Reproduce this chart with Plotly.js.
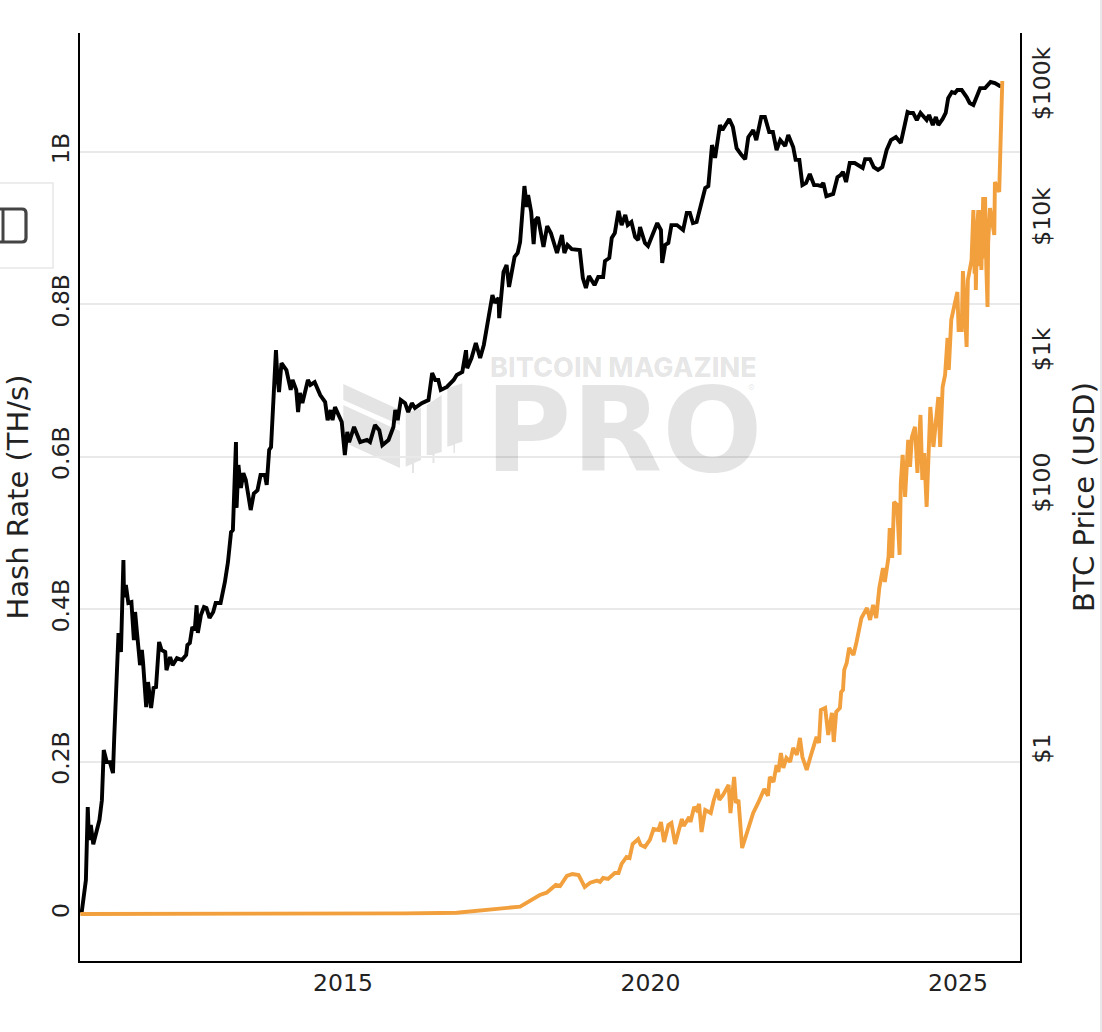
<!DOCTYPE html>
<html><head><meta charset="utf-8">
<script src="https://cdn.plot.ly/plotly-3.0.1.min.js"></script>
<style>html,body{margin:0;padding:0;background:#fff}#c{width:1102px;height:1032px}</style>
</head><body><div id="c"></div>
<script>
const priceYears=[2010.75,2010.82,2010.85,2010.87,2010.90,2010.94,2011.04,2011.08,2011.11,2011.16,2011.21,2011.26,2011.28,2011.35,2011.39,2011.43,2011.44,2011.47,2011.51,2011.56,2011.60,2011.62,2011.65,2011.70,2011.73,2011.75,2011.80,2011.83,2011.88,2011.92,2011.96,2012.01,2012.05,2012.11,2012.13,2012.19,2012.23,2012.30,2012.38,2012.45,2012.47,2012.51,2012.55,2012.59,2012.62,2012.64,2012.69,2012.74,2012.78,2012.83,2012.89,2012.93,2013.01,2013.08,2013.13,2013.18,2013.21,2013.26,2013.27,2013.30,2013.34,2013.38,2013.42,2013.50,2013.55,2013.61,2013.66,2013.73,2013.76,2013.80,2013.83,2013.88,2013.91,2013.93,2013.96,2014.00,2014.08,2014.15,2014.18,2014.24,2014.27,2014.30,2014.34,2014.43,2014.47,2014.54,2014.63,2014.71,2014.75,2014.80,2014.83,2014.87,2014.92,2014.98,2015.03,2015.07,2015.10,2015.18,2015.28,2015.39,2015.44,2015.52,2015.59,2015.64,2015.74,2015.82,2015.85,2015.89,2015.94,2016.01,2016.06,2016.12,2016.17,2016.28,2016.39,2016.45,2016.50,2016.55,2016.59,2016.69,2016.80,2016.85,2016.94,2017.00,2017.02,2017.09,2017.16,2017.23,2017.29,2017.36,2017.43,2017.47,2017.53,2017.54,2017.61,2017.66,2017.70,2017.79,2017.84,2017.88,2017.92,2017.95,2017.99,2018.01,2018.06,2018.10,2018.13,2018.17,2018.26,2018.32,2018.38,2018.42,2018.48,2018.56,2018.60,2018.65,2018.72,2018.85,2018.88,2018.90,2018.95,2019.00,2019.09,2019.15,2019.23,2019.26,2019.33,2019.37,2019.42,2019.48,2019.53,2019.59,2019.63,2019.69,2019.75,2019.80,2019.83,2019.91,2019.96,2020.02,2020.11,2020.17,2020.19,2020.24,2020.29,2020.34,2020.43,2020.53,2020.59,2020.64,2020.69,2020.75,2020.80,2020.89,2020.94,2021.00,2021.05,2021.13,2021.17,2021.28,2021.34,2021.40,2021.48,2021.54,2021.59,2021.67,2021.72,2021.80,2021.86,2021.93,2021.99,2022.05,2022.11,2022.19,2022.24,2022.32,2022.36,2022.42,2022.47,2022.53,2022.59,2022.66,2022.72,2022.77,2022.81,2022.86,2022.97,2023.04,2023.09,2023.13,2023.18,2023.24,2023.32,2023.45,2023.49,2023.57,2023.63,2023.70,2023.77,2023.84,2023.91,2023.99,2024.07,2024.13,2024.18,2024.22,2024.27,2024.33,2024.39,2024.49,2024.53,2024.59,2024.64,2024.68,2024.75,2024.80,2024.84,2024.90,2024.95,2024.99,2025.06,2025.14,2025.19,2025.25,2025.36,2025.44,2025.53,2025.60,2025.68,2025.72];
const priceUsd=[0.0616,0.109,0.386,0.218,0.283,0.203,0.308,0.435,1.035,0.84,0.84,0.695,1.27,7.85,5.65,27.8,14.6,18.0,13.2,13.4,6.95,11.3,7.98,4.5,5.85,4.67,2.18,3.36,2.14,3.03,3.08,6.72,5.85,5.65,4.13,5.18,4.5,5.08,4.92,5.37,6.38,6.6,8.7,8.25,12.7,7.85,10.7,12.3,12.1,10.2,11.3,13.2,13.2,19.0,26.8,45,46.7,214,68.5,144,96.6,125,111,66,88,93,121,121,102,187,196,595,1050,707,508,840,745,528,627,528,360,500,420,627,575,604,483,428,313,373,313,392,342,303,171,255,214,278,214,222,214,287,263,203,222,278,373,313,443,420,360,420,386,420,443,707,627,627,528,556,627,684,719,1050,770,916,1190,916,1150,1770,2730,2380,2590,1830,4060,4590,3140,5280,5650,6840,11300,18000,12500,15400,11500,6600,10000,10500,6270,9000,7980,6840,5650,7700,5650,6490,6040,5950,4430,3660,3080,3800,3240,3730,3730,4920,5180,7320,7980,11700,9160,10900,9160,9660,7450,7070,8860,6720,6380,7450,9490,8400,4750,6490,6720,9160,9160,8400,11300,11300,9490,9660,11900,17400,18000,36600,29300,51800,47500,57500,50000,34700,30800,28700,42000,47500,39900,59500,59500,45900,45900,33600,39900,36000,43500,35400,28300,28300,18300,19000,22200,18300,18300,18000,19000,15100,15700,21000,21800,23000,19300,26800,26800,24600,28700,28700,25000,23800,25000,33600,39900,42000,38000,49200,64900,63800,63800,56500,63800,56500,61600,51800,59500,51800,57500,63800,82500,91600,90000,94900,94900,84000,75800,73200,98000,98000,109000,107000,101700,101700];
const hashYears=[2010.73,2012.0,2013.0,2014.0,2015.0,2016.0,2016.58,2016.85,2017.88,2018.20,2018.31,2018.46,2018.53,2018.64,2018.73,2018.83,2018.93,2019.02,2019.13,2019.18,2019.23,2019.31,2019.42,2019.48,2019.53,2019.61,2019.66,2019.71,2019.80,2019.84,2019.91,2019.99,2020.05,2020.13,2020.17,2020.22,2020.29,2020.34,2020.40,2020.47,2020.51,2020.54,2020.63,2020.65,2020.71,2020.75,2020.79,2020.83,2020.89,2020.98,2021.03,2021.09,2021.12,2021.18,2021.27,2021.30,2021.36,2021.39,2021.43,2021.49,2021.54,2021.59,2021.67,2021.75,2021.85,2021.91,2021.94,2022.00,2022.05,2022.08,2022.12,2022.16,2022.21,2022.27,2022.32,2022.38,2022.43,2022.47,2022.54,2022.60,2022.66,2022.70,2022.74,2022.77,2022.84,2022.89,2022.95,2022.98,2023.02,2023.08,2023.10,2023.13,2023.15,2023.19,2023.23,2023.30,2023.35,2023.43,2023.52,2023.57,2023.62,2023.67,2023.72,2023.78,2023.81,2023.87,2023.89,2023.93,2023.96,2024.01,2024.05,2024.07,2024.10,2024.14,2024.19,2024.22,2024.25,2024.30,2024.34,2024.39,2024.42,2024.45,2024.49,2024.53,2024.55,2024.60,2024.68,2024.71,2024.75,2024.79,2024.83,2024.85,2024.89,2024.95,2024.99,2025.01,2025.06,2025.08,2025.14,2025.16,2025.22,2025.25,2025.27,2025.28,2025.29,2025.31,2025.33,2025.35,2025.36,2025.38,2025.39,2025.41,2025.43,2025.44,2025.46,2025.48,2025.49,2025.52,2025.59,2025.60,2025.67,2025.68,2025.69,2025.71,2025.72];
const hashBillions=[0,0,0.00002,0.00005,0.0003,0.0008,0.0013,0.0017,0.0096,0.0249,0.0279,0.0381,0.0367,0.0499,0.0525,0.0512,0.0354,0.0411,0.0437,0.042,0.0472,0.0459,0.0538,0.0538,0.0656,0.0748,0.0735,0.0919,0.0984,0.0906,0.0879,0.0971,0.1115,0.1102,0.1207,0.0945,0.1168,0.1194,0.0919,0.1102,0.1247,0.1155,0.1273,0.1207,0.1404,0.1365,0.1444,0.1076,0.1365,0.1325,0.1496,0.164,0.1496,0.1562,0.1693,0.1325,0.1798,0.1457,0.1496,0.0866,0.0997,0.1102,0.1325,0.1457,0.164,0.1549,0.1798,0.1732,0.1955,0.1864,0.2113,0.1916,0.2047,0.1995,0.2178,0.2087,0.231,0.206,0.189,0.206,0.2244,0.2323,0.2244,0.2677,0.2703,0.2349,0.2638,0.2257,0.2651,0.2703,0.2913,0.294,0.3202,0.3294,0.3491,0.3399,0.3569,0.3884,0.4016,0.3858,0.4055,0.3884,0.4278,0.454,0.4357,0.4684,0.5065,0.4672,0.5406,0.5367,0.4711,0.5656,0.6023,0.5472,0.622,0.5866,0.6259,0.6391,0.5787,0.6548,0.5695,0.6049,0.5341,0.6128,0.6653,0.6128,0.6784,0.6128,0.6915,0.7073,0.7558,0.7138,0.7795,0.8017,0.8162,0.7663,0.7663,0.8437,0.744,0.8319,0.8581,0.9237,0.84,0.90,0.8188,0.90,0.9237,0.85,0.9237,0.845,0.90,0.9408,0.86,0.9408,0.85,0.7965,0.88,0.9264,0.891,0.9605,0.9474,0.9802,1.0288,1.0459,1.0931];
const hashTickVals=[0,0.2,0.4,0.6,0.8,1];
const hashTickText=['0','0.2B','0.4B','0.6B','0.8B','1B'];
const priceTickVals=[1,100,1000,10000,100000];
const priceTickText=['$1','$100','$1k','$10k','$100k'];
const yearTicks=[2015,2020,2025];

const W=1102,H=1032,L=80,R=1020,T=33,B=961;
const fx=x=>(x-L)/(R-L), fy=y=>(B-y)/(B-T);
const poly=(pts,color)=>({type:'path',xref:'paper',yref:'paper',layer:'below',fillcolor:color,line:{width:0},
  path:pts.map((p,i)=>(i?'L':'M')+fx(p[0])+','+fy(p[1])).join(' ')+' Z'});
const wm='#e4e4e4';
const wmText='rgba(0,0,0,0.105)';
const logo=[
 [[343.3,384],[400,410],[400,425],[343.3,400]],
 [[343.3,405],[400,431],[400,468],[343.3,442]],
 [[405.7,413.3],[421,408],[421,460],[414,463],[414,473],[412,473],[412,464],[405.7,466.7]],
 [[426.7,405],[441.7,395],[441.7,452],[434.5,454],[434.5,463],[432.5,463],[432.5,455],[426.7,455]],
 [[447.3,388.3],[462.3,383.3],[462.3,441.7],[455,444],[455,453],[453.5,453],[453.5,445],[447.3,446.7]]
].map(p=>poly(p,wm));
const frame=[
 {type:'path',xref:'paper',yref:'paper',layer:'above',line:{color:'#e8e8e8',width:1.5},
  path:`M${fx(0)},${fy(183)} L${fx(53)},${fy(183)} L${fx(53)},${fy(268)} L${fx(0)},${fy(268)}`},
 {type:'path',xref:'paper',yref:'paper',layer:'above',line:{color:'#444',width:3.2},
  path:`M${fx(0)},${fy(209)} L${fx(22)},${fy(209)} Q${fx(26)},${fy(209)} ${fx(26)},${fy(213)} L${fx(26)},${fy(238)} Q${fx(26)},${fy(242)} ${fx(22)},${fy(242)} L${fx(0)},${fy(242)}`},
 {type:'line',xref:'paper',yref:'paper',layer:'above',line:{color:'#444',width:3},x0:fx(3),x1:fx(3),y0:fy(209),y1:fy(242)},
 {type:'line',xref:'paper',yref:'paper',layer:'above',line:{color:'#e8e8e8',width:2},x0:fx(1101),x1:fx(1101),y0:fy(0),y1:fy(1032)}
];
const note=(text,x,y,size,family,weight)=>({text,xref:'paper',yref:'paper',x:fx(x),y:fy(y),xanchor:'center',yanchor:'middle',showarrow:false,
  font:{family,size,color:wmText,weight}});

const tickFont={family:'"DejaVu Sans", sans-serif',size:23.5,color:'#222'};
const titleFont={family:'"DejaVu Sans", sans-serif',size:29,color:'#222'};
const lineAx={showline:true,linecolor:'#000',linewidth:2,ticks:'',tickfont:tickFont};

const traces=[
 {name:'BTC Price',x:priceYears,y:priceUsd,type:'scatter',mode:'lines',yaxis:'y',line:{color:'#000',width:3.9}},
 {name:'Hash Rate',x:hashYears,y:hashBillions.map(v=>v*1e9),type:'scatter',mode:'lines',yaxis:'y2',line:{color:'#f2a03d',width:3.9}}
];
const layout={
 width:W,height:H,showlegend:false,paper_bgcolor:'#fff',plot_bgcolor:'#fff',
 margin:{l:L,r:W-R,t:T,b:H-B,pad:0},
 xaxis:Object.assign({},lineAx,{type:'linear',range:[2010.724,2026.008],tickvals:yearTicks,ticktext:yearTicks.map(String),showgrid:false,zeroline:false,tickangle:0}),
 yaxis:Object.assign({},lineAx,{type:'log',side:'right',range:[-1.571,5.406],tickvals:priceTickVals,ticktext:priceTickText,tickangle:-90,showgrid:false,zeroline:false,
   title:{text:'BTC Price (USD)',font:titleFont,standoff:18}}),
 yaxis2:Object.assign({},lineAx,{type:'linear',overlaying:'y',side:'left',range:[-0.0617e9,1.156e9],tickvals:hashTickVals.map(v=>v*1e9),ticktext:hashTickText,tickangle:-90,
   showgrid:true,gridcolor:'#e9e9e9',gridwidth:2,zeroline:true,zerolinecolor:'#e9e9e9',zerolinewidth:2,
   title:{text:'Hash Rate (TH/s)',font:titleFont,standoff:9}}),
 shapes:logo.concat(frame),
 annotations:[
  note('BITCOIN MAGAZINE',623.5,367.5,27,'Inter, "Open Sans", sans-serif',800),
  note('PRO',623.5,430,118,'"DejaVu Sans", sans-serif',700),
  note('®',751.7,388,10,'Inter, sans-serif',400)
 ]
};
Plotly.newPlot('c',traces,layout,{displayModeBar:false,responsive:false});
</script></body></html>
